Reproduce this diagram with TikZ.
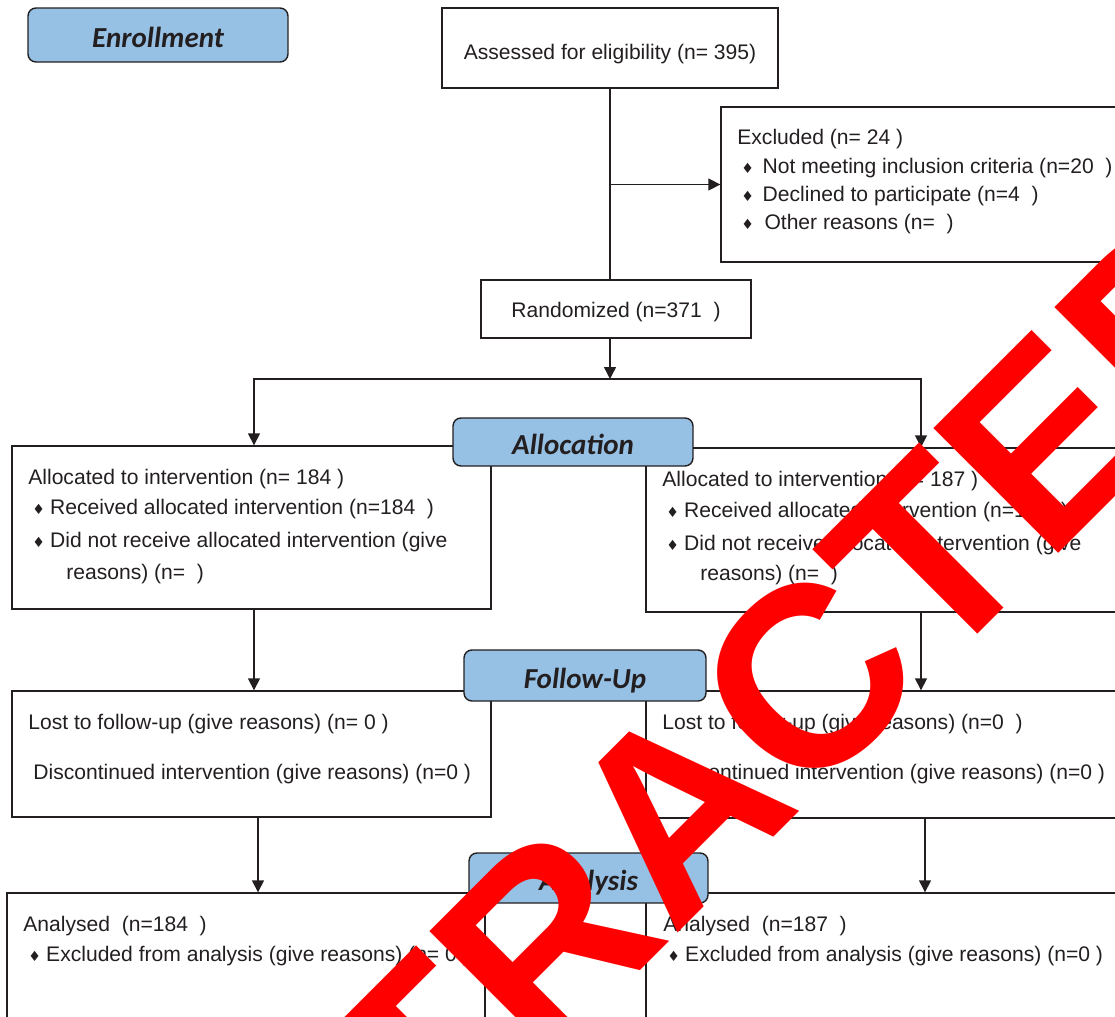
\documentclass[tikz,border=0pt]{standalone}
\usepackage{fontspec}
\setmainfont{Liberation Sans}
\newfontfamily\lblfont{Carlito}
\newfontfamily\symfont{DejaVu Sans}
\usetikzlibrary{arrows.meta}
\definecolor{inkgray}{RGB}{35,31,32}
\definecolor{lblblue}{RGB}{150,192,228}
\definecolor{stampred}{RGB}{255,0,0}
\newcommand{\dmd}{{\symfont\fontsize{8}{8}\selectfont ♦}\hspace{3pt}}
\tikzset{
  box/.style={draw=inkgray, line width=0.8pt, inner sep=0pt},
  lbl/.style={draw=inkgray, line width=0.8pt, fill=lblblue, rounded corners=4.5pt,
    inner sep=0pt, text height=16.6pt, text depth=2pt, text=inkgray,
    font=\lblfont\bfseries\itshape\fontsize{16.5}{18}\selectfont},
  txt/.style={anchor=west, inner sep=0pt, yshift=-0.06cm, text=inkgray, font=\fontsize{12}{14}\selectfont},
  ln/.style={draw=inkgray, line width=0.8pt},
  arr/.style={ln, -{Triangle[length=6.8pt,width=6.8pt]}},
  stamp/.style={rotate=45, inner sep=0pt, text=stampred, font=\bfseries\fontsize{146}{146}\selectfont}
}
\begin{document}
\begin{tikzpicture}[x=0.02cm, y=-0.02cm]
  \clip (0,0) rectangle (1115,1017);
  \node[box, minimum width=6.72cm, minimum height=1.6cm] (assess) at (610,48) {};
  \node[box, minimum width=8.08cm, minimum height=3.1cm] (excl) at (923,184.5) {};
  \node[box, minimum width=5.4cm, minimum height=1.16cm] (rand) at (616,309) {};
  \node[box, minimum width=9.58cm, minimum height=3.26cm] (allocL) at (251.5,527.5) {};
  \node[box, minimum width=9.58cm, minimum height=3.28cm] (allocR) at (885.5,530) {};
  \node[box, minimum width=9.58cm, minimum height=2.52cm] (followL) at (251.5,754) {};
  \node[box, minimum width=9.58cm, minimum height=2.54cm] (followR) at (885.5,754.5) {};
  \node[box, minimum width=9.56cm, minimum height=2.74cm] (anaL) at (246,961.5) {};
  \node[box, minimum width=9.58cm, minimum height=2.74cm] (anaR) at (885.5,961.5) {};

  \coordinate (split) at (610,379);
  \coordinate (lcol) at (254,0);
  \coordinate (rcol) at (921,0);
  \coordinate (lcolb) at (258,0);
  \coordinate (rcolb) at (925,0);

  \draw[ln] (assess.south) -- (assess.south |- rand.north);
  \draw[arr] (assess.south |- excl.west) -- (excl.west);
  \draw[arr] (split |- rand.south) -- (split);
  \draw[arr] (split) -| (lcol |- allocL.north);
  \draw[arr] (split) -| (rcol |- allocR.north);
  \draw[arr] (lcol |- allocL.south) -- (lcol |- followL.north);
  \draw[arr] (rcol |- allocR.south) -- (rcol |- followR.north);
  \draw[arr] (lcolb |- followL.south) -- (lcolb |- anaL.north);
  \draw[arr] (rcolb |- followR.south) -- (rcolb |- anaR.north);

  \node[txt, anchor=center] (t0) at (610,51) {Assessed for eligibility (n= 395)};
  \node[txt] (e1) at (737,136) {Excluded (n= 24 )};
  \node[txt] (e2) at (741,165) {\dmd\hspace{2pt}Not meeting inclusion criteria (n=20\ \ )};
  \node[txt] (e3) at (741,193) {\dmd\hspace{2pt}Declined to participate (n=4\ \ )};
  \node[txt] (e4) at (741,221) {\dmd\hspace{3pt}Other reasons (n=\ \ )};
  \node[txt, anchor=center] (r1) at (616,309) {Randomized (n=371\ \ )};

  \node[txt] (a1) at (28,476) {Allocated to intervention (n= 184 )};
  \node[txt] (a2) at (32,506) {\dmd Received allocated intervention (n=184\ \ )};
  \node[txt] (a3) at (32,539) {\dmd Did not receive allocated intervention (give};
  \node[txt] (a4) at (66,571) {reasons) (n=\ \ )};
  \node[txt] (b1) at (662,478) {Allocated to intervention (n= 187 )};
  \node[txt] (b2) at (666,509) {\dmd Received allocated intervention (n=187\ \ )};
  \node[txt] (b3) at (666,542) {\dmd Did not receive allocated intervention (give};
  \node[txt] (b4) at (700,572) {reasons) (n=\ \ )};

  \node[txt] (f1) at (28,721) {Lost to follow-up (give reasons) (n= 0 )};
  \node[txt] (f2) at (33,771) {Discontinued intervention (give reasons) (n=0 )};
  \node[txt] (g1) at (662,721) {Lost to follow-up (give reasons) (n=0\ \ )};
  \node[txt] (g2) at (667,771) {Discontinued intervention (give reasons) (n=0 )};

  \node[txt] (n1) at (23,923) {Analysed\ \ (n=184\ \ )};
  \node[txt] (n2) at (28,953) {\dmd Excluded from analysis (give reasons) (n= 0 )};
  \node[txt] (m1) at (663,923) {Analysed\ \ (n=187\ \ )};
  \node[txt] (m2) at (667,953) {\dmd Excluded from analysis (give reasons) (n=0 )};

  \node[lbl, minimum width=5.2cm, minimum height=1.08cm] (enrol) at (158,35) {Enrollment};
  \node[lbl, minimum width=4.8cm, minimum height=0.96cm] (alloc) at (573,442) {Allocation};
  \node[lbl, minimum width=4.84cm, minimum height=1.02cm] (follow) at (585,675.5) {Follow-Up};
  \node[lbl, minimum width=4.78cm, minimum height=1.0cm] (analysis) at (588.5,878) {Analysis};

  \node[stamp] (retract) at (677,810) {RETRACTED};
\end{tikzpicture}
\end{document}
